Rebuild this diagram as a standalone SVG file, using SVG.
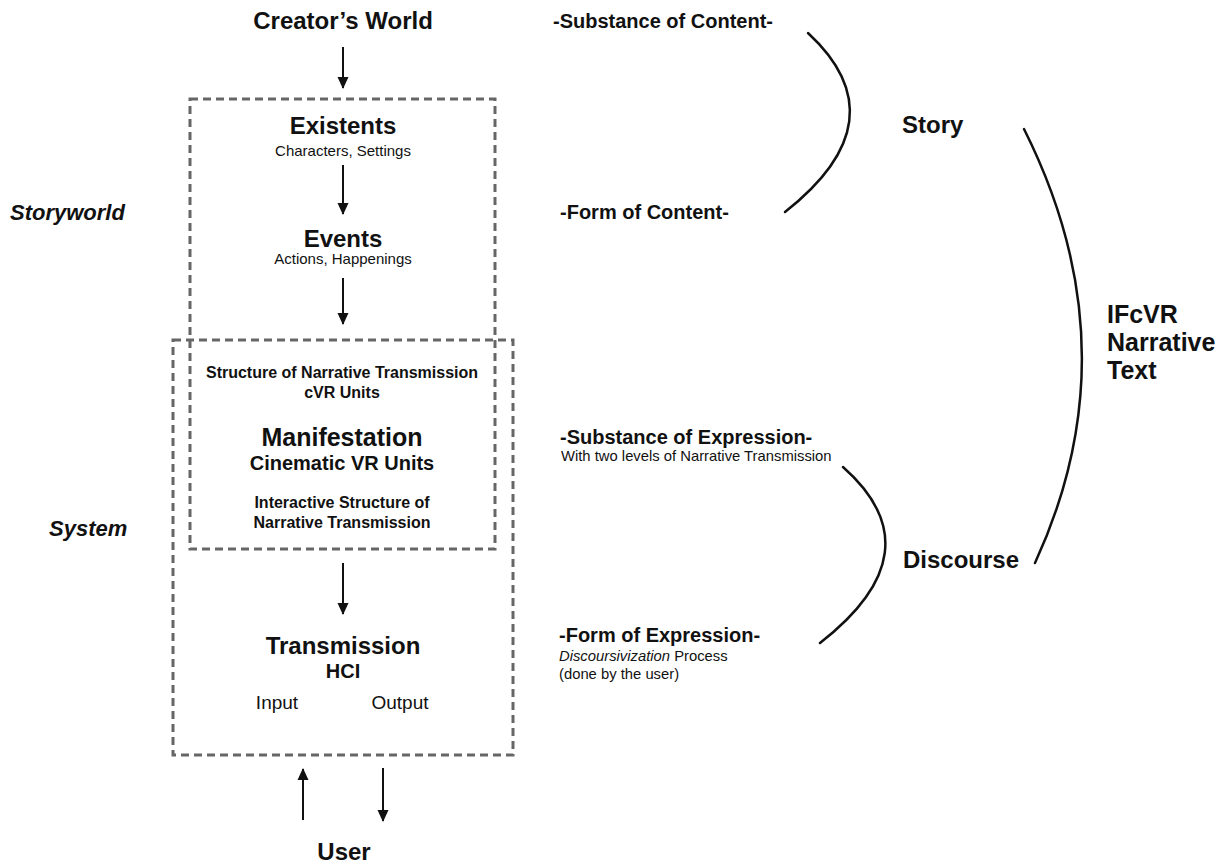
<svg xmlns="http://www.w3.org/2000/svg" width="1226" height="865" viewBox="0 0 1226 865">
  <style>
    text { font-family: "Liberation Sans", Arial, sans-serif; fill: #111; }
    .b { font-weight: bold; }
    .bi { font-weight: bold; font-style: italic; }
    .c { text-anchor: middle; }
    .frame { fill: none; stroke: #666; stroke-width: 3; stroke-dasharray: 8 5; }
    .arrow { stroke: #111; stroke-width: 2; fill: none; marker-end: url(#head); }
    .brace { stroke: #111; stroke-width: 2.5; fill: none; stroke-linecap: round; }
  </style>
  <defs>
    <marker id="head" viewBox="0 0 12 12" refX="11" refY="6" markerWidth="12" markerHeight="12" markerUnits="userSpaceOnUse" orient="auto">
      <path d="M0,0.5 L12,6 L0,11.5 Z" fill="#111"/>
    </marker>
  </defs>

  <rect width="1226" height="865" fill="#fff"/>

  <!-- dashed frames -->
  <g id="frames">
    <rect id="storyworld-frame" class="frame" x="190" y="99" width="305" height="450"/>
    <rect id="system-frame" class="frame" x="173" y="340" width="340" height="415"/>
  </g>

  <!-- side labels -->
  <g id="side-labels">
    <text class="bi" x="10" y="220" font-size="22">Storyworld</text>
    <text class="bi" x="49" y="536" font-size="22">System</text>
  </g>

  <g id="creator">
    <text class="b c" x="343" y="29" font-size="24">Creator’s World</text>
  </g>
  <g id="existents">
    <text class="b c" x="343" y="134" font-size="24">Existents</text>
    <text class="c" x="343" y="156" font-size="15">Characters, Settings</text>
  </g>
  <g id="events">
    <text class="b c" x="343" y="247" font-size="24">Events</text>
    <text class="c" x="343" y="264" font-size="15">Actions, Happenings</text>
  </g>
  <g id="manifestation">
    <text class="b c" x="342" y="378" font-size="16">Structure of Narrative Transmission</text>
    <text class="b c" x="342" y="398" font-size="16">cVR Units</text>
    <text class="b c" x="342" y="446" font-size="25">Manifestation</text>
    <text class="b c" x="342" y="470" font-size="20">Cinematic VR Units</text>
    <text class="b c" x="342" y="508" font-size="16">Interactive Structure of</text>
    <text class="b c" x="342" y="528" font-size="16">Narrative Transmission</text>
  </g>
  <g id="transmission">
    <text class="b c" x="343" y="654" font-size="24">Transmission</text>
    <text class="b c" x="343" y="678" font-size="20">HCI</text>
    <text class="c" x="277" y="709" font-size="19">Input</text>
    <text class="c" x="400" y="709" font-size="19">Output</text>
  </g>
  <g id="user">
    <text class="b c" x="344" y="860" font-size="24">User</text>
  </g>

  <!-- connectors -->
  <g id="connectors">
    <line class="arrow" x1="343" y1="47" x2="343" y2="88"/>
    <line class="arrow" x1="343" y1="165" x2="343" y2="214"/>
    <line class="arrow" x1="343" y1="278" x2="343" y2="324"/>
    <line class="arrow" x1="343" y1="563" x2="343" y2="614"/>
    <line class="arrow" x1="303" y1="820" x2="303" y2="769"/>
    <line class="arrow" x1="383" y1="768" x2="383" y2="821"/>
  </g>

  <!-- narrative levels -->
  <g id="levels">
    <text class="b" x="553" y="28" font-size="20">-Substance of Content-</text>
    <text class="b" x="560" y="219" font-size="20">-Form of Content-</text>
    <text class="b" x="560" y="444" font-size="20">-Substance of Expression-</text>
    <text x="561" y="461" font-size="14.8">With two levels of Narrative Transmission</text>
    <text class="b" x="559" y="642" font-size="20">-Form of Expression-</text>
    <text x="559" y="661" font-size="14.8"><tspan font-style="italic">Discoursivization</tspan> Process</text>
    <text x="559" y="679" font-size="14.8">(done by the user)</text>
  </g>

  <g id="braces">
    <path class="brace" d="M808,33 Q902,120 785,212"/>
    <path class="brace" d="M1024,129 Q1134,348 1035,563"/>
    <path class="brace" d="M843,467 Q938,551 820,643"/>
  </g>

  <g id="story">
    <text class="b" x="902" y="133" font-size="24">Story</text>
  </g>
  <g id="discourse">
    <text class="b" x="903" y="568" font-size="24">Discourse</text>
  </g>
  <g id="narrative-text">
    <text class="b" x="1107" y="323" font-size="25">IFcVR</text>
    <text class="b" x="1107" y="351" font-size="25">Narrative</text>
    <text class="b" x="1107" y="379" font-size="25">Text</text>
  </g>
</svg>
